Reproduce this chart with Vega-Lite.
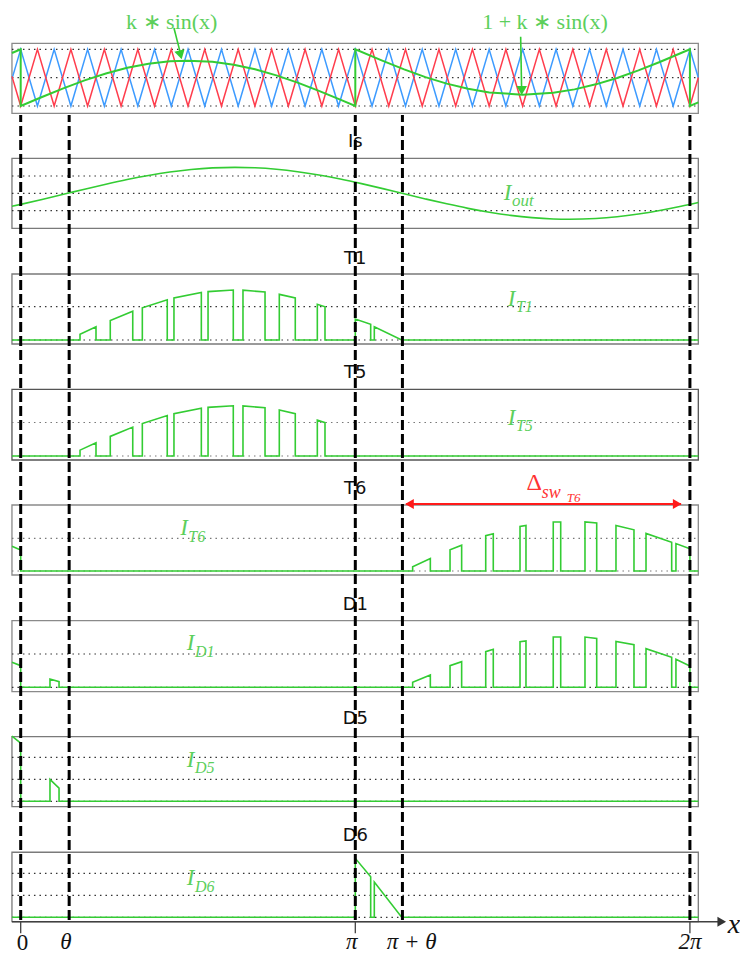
{
"$schema": "https://vega.github.io/schema/vega-lite/v6.json",
"width": 740, "height": 956, "padding": 0, "autosize": {"type": "none"},
"background": "white",
"config": {"view": {"stroke": null}},
"datasets": {
"carrier": [
{"x":-0.082,"blue":0.478,"red":0.522},{"x":0,"blue":1,"red":0},{"x":0.1571,"blue":0,"red":1},{"x":0.3142,"blue":1,"red":0},{"x":0.4712,"blue":0,"red":1},{"x":0.6283,"blue":1,"red":0},{"x":0.7854,"blue":0,"red":1},{"x":0.9425,"blue":1,"red":0},{"x":1.0996,"blue":0,"red":1},{"x":1.2566,"blue":1,"red":0},{"x":1.4137,"blue":0,"red":1},{"x":1.5708,"blue":1,"red":0},{"x":1.7279,"blue":0,"red":1},{"x":1.885,"blue":1,"red":0},{"x":2.042,"blue":0,"red":1},{"x":2.1991,"blue":1,"red":0},{"x":2.3562,"blue":0,"red":1},{"x":2.5133,"blue":1,"red":0},{"x":2.6704,"blue":0,"red":1},{"x":2.8274,"blue":1,"red":0},{"x":2.9845,"blue":0,"red":1},{"x":3.1416,"blue":1,"red":0},{"x":3.2987,"blue":0,"red":1},{"x":3.4558,"blue":1,"red":0},{"x":3.6128,"blue":0,"red":1},{"x":3.7699,"blue":1,"red":0},{"x":3.927,"blue":0,"red":1},{"x":4.0841,"blue":1,"red":0},{"x":4.2412,"blue":0,"red":1},{"x":4.3982,"blue":1,"red":0},{"x":4.5553,"blue":0,"red":1},{"x":4.7124,"blue":1,"red":0},{"x":4.8695,"blue":0,"red":1},{"x":5.0265,"blue":1,"red":0},{"x":5.1836,"blue":0,"red":1},{"x":5.3407,"blue":1,"red":0},{"x":5.4978,"blue":0,"red":1},{"x":5.6549,"blue":1,"red":0},{"x":5.8119,"blue":0,"red":1},{"x":5.969,"blue":1,"red":0},{"x":6.1261,"blue":0,"red":1},{"x":6.2832,"blue":1,"red":0},{"x":6.362,"blue":0.498,"red":0.502}
],
"mod": [
{"x":-0.082,"y":0.934},{"x":0,"y":1},{"x":0,"y":0},{"x":0.2,"y":0.159},{"x":0.4,"y":0.312},{"x":0.6,"y":0.452},{"x":0.8,"y":0.574},{"x":1.0,"y":0.673},{"x":1.2,"y":0.746},{"x":1.4,"y":0.788},{"x":1.571,"y":0.8},{"x":1.8,"y":0.779},{"x":2.0,"y":0.727},{"x":2.2,"y":0.647},{"x":2.4,"y":0.54},{"x":2.6,"y":0.412},{"x":2.8,"y":0.268},{"x":3.0,"y":0.113},{"x":3.1416,"y":0},{"x":3.1416,"y":1},{"x":3.4,"y":0.796},{"x":3.6,"y":0.646},{"x":3.8,"y":0.51},{"x":4.0,"y":0.395},{"x":4.2,"y":0.303},{"x":4.4,"y":0.239},{"x":4.712,"y":0.2},{"x":5.0,"y":0.233},{"x":5.2,"y":0.293},{"x":5.4,"y":0.382},{"x":5.6,"y":0.495},{"x":5.8,"y":0.628},{"x":6.0,"y":0.776},{"x":6.2,"y":0.934},{"x":6.2832,"y":1},{"x":6.2832,"y":0},{"x":6.362,"y":0.063}
],
"is": [
{"x":-0.082,"y":-0.748},{"x":0,"y":-0.639},{"x":0.2,"y":-0.357},{"x":0.44,"y":0},{"x":0.6,"y":0.239},{"x":0.8,"y":0.528},{"x":1.0,"y":0.797},{"x":1.2,"y":1.033},{"x":1.4,"y":1.229},{"x":1.6,"y":1.375},{"x":1.8,"y":1.467},{"x":2.011,"y":1.5},{"x":2.2,"y":1.473},{"x":2.4,"y":1.388},{"x":2.6,"y":1.247},{"x":2.8,"y":1.056},{"x":3.0,"y":0.824},{"x":3.2,"y":0.559},{"x":3.4,"y":0.271},{"x":3.58,"y":0},{"x":3.8,"y":-0.325},{"x":4.0,"y":-0.609},{"x":4.2,"y":-0.87},{"x":4.4,"y":-1.095},{"x":4.6,"y":-1.277},{"x":4.8,"y":-1.408},{"x":5.0,"y":-1.483},{"x":5.152,"y":-1.5},{"x":5.4,"y":-1.455},{"x":5.6,"y":-1.353},{"x":5.8,"y":-1.196},{"x":6.0,"y":-0.993},{"x":6.2,"y":-0.75},{"x":6.362,"y":-0.53}
],
"t1": [
{"x":-0.082,"y":0},{"x":0.557,"y":0},{"x":0.557,"y":0.175},{"x":0.707,"y":0.396},{"x":0.707,"y":0},{"x":0.841,"y":0},{"x":0.841,"y":0.585},{"x":1.052,"y":0.862},{"x":1.052,"y":0},{"x":1.142,"y":0},{"x":1.142,"y":0.969},{"x":1.376,"y":1.208},{"x":1.376,"y":0},{"x":1.439,"y":0},{"x":1.439,"y":1.261},{"x":1.696,"y":1.426},{"x":1.696,"y":0},{"x":1.759,"y":0},{"x":1.759,"y":1.453},{"x":1.996,"y":1.5},{"x":1.996,"y":0},{"x":2.087,"y":0},{"x":2.087,"y":1.496},{"x":2.294,"y":1.44},{"x":2.294,"y":0},{"x":2.428,"y":0},{"x":2.428,"y":1.371},{"x":2.578,"y":1.264},{"x":2.578,"y":0},{"x":2.785,"y":0},{"x":2.785,"y":1.073},{"x":2.857,"y":0.995},{"x":2.857,"y":0},{"x":3.1416,"y":0},{"x":3.1416,"y":0.63},{"x":3.286,"y":0.47},{"x":3.286,"y":0},{"x":3.32,"y":0},{"x":3.32,"y":0.4},{"x":3.577,"y":0},{"x":6.362,"y":0}
],
"t5": [
{"x":-0.082,"y":0},{"x":0.557,"y":0},{"x":0.557,"y":0.175},{"x":0.707,"y":0.396},{"x":0.707,"y":0},{"x":0.841,"y":0},{"x":0.841,"y":0.585},{"x":1.052,"y":0.862},{"x":1.052,"y":0},{"x":1.142,"y":0},{"x":1.142,"y":0.969},{"x":1.376,"y":1.208},{"x":1.376,"y":0},{"x":1.439,"y":0},{"x":1.439,"y":1.261},{"x":1.696,"y":1.426},{"x":1.696,"y":0},{"x":1.759,"y":0},{"x":1.759,"y":1.453},{"x":1.996,"y":1.5},{"x":1.996,"y":0},{"x":2.087,"y":0},{"x":2.087,"y":1.496},{"x":2.294,"y":1.44},{"x":2.294,"y":0},{"x":2.428,"y":0},{"x":2.428,"y":1.371},{"x":2.578,"y":1.264},{"x":2.578,"y":0},{"x":2.785,"y":0},{"x":2.785,"y":1.073},{"x":2.857,"y":0.995},{"x":2.857,"y":0},{"x":6.362,"y":0}
],
"t6": [
{"x":-0.082,"y":0.76},{"x":0,"y":0.64},{"x":0,"y":0},{"x":3.68,"y":0},{"x":3.68,"y":0.13},{"x":3.846,"y":0.38},{"x":3.846,"y":0},{"x":4.031,"y":0},{"x":4.031,"y":0.65},{"x":4.14,"y":0.79},{"x":4.14,"y":0},{"x":4.366,"y":0},{"x":4.366,"y":1.08},{"x":4.437,"y":1.14},{"x":4.437,"y":0},{"x":4.688,"y":0},{"x":4.688,"y":1.36},{"x":4.744,"y":1.39},{"x":4.744,"y":0},{"x":5.0,"y":0},{"x":5.0,"y":1.5},{"x":5.07,"y":1.5},{"x":5.07,"y":0},{"x":5.298,"y":0},{"x":5.298,"y":1.5},{"x":5.408,"y":1.47},{"x":5.408,"y":0},{"x":5.589,"y":0},{"x":5.589,"y":1.39},{"x":5.758,"y":1.26},{"x":5.758,"y":0},{"x":5.871,"y":0},{"x":5.871,"y":1.15},{"x":6.112,"y":0.88},{"x":6.112,"y":0},{"x":6.152,"y":0},{"x":6.152,"y":0.84},{"x":6.2832,"y":0.68},{"x":6.2832,"y":0},{"x":6.362,"y":0}
],
"d1": [
{"x":-0.082,"y":0.75},{"x":0,"y":0.65},{"x":0,"y":0},{"x":0.275,"y":0},{"x":0.275,"y":0.25},{"x":0.36,"y":0.17},{"x":0.36,"y":0},{"x":3.68,"y":0},{"x":3.68,"y":0.15},{"x":3.846,"y":0.37},{"x":3.846,"y":0},{"x":4.031,"y":0},{"x":4.031,"y":0.65},{"x":4.14,"y":0.77},{"x":4.14,"y":0},{"x":4.366,"y":0},{"x":4.366,"y":1.07},{"x":4.437,"y":1.14},{"x":4.437,"y":0},{"x":4.688,"y":0},{"x":4.688,"y":1.37},{"x":4.744,"y":1.39},{"x":4.744,"y":0},{"x":5.0,"y":0},{"x":5.0,"y":1.51},{"x":5.07,"y":1.51},{"x":5.07,"y":0},{"x":5.298,"y":0},{"x":5.298,"y":1.51},{"x":5.408,"y":1.47},{"x":5.408,"y":0},{"x":5.589,"y":0},{"x":5.589,"y":1.38},{"x":5.758,"y":1.28},{"x":5.758,"y":0},{"x":5.871,"y":0},{"x":5.871,"y":1.16},{"x":6.112,"y":0.9},{"x":6.112,"y":0},{"x":6.152,"y":0},{"x":6.152,"y":0.84},{"x":6.2832,"y":0.64},{"x":6.2832,"y":0},{"x":6.362,"y":0}
],
"d5": [
{"x":-0.082,"y":0.74},{"x":0,"y":0.66},{"x":0,"y":0},{"x":0.275,"y":0},{"x":0.275,"y":0.25},{"x":0.36,"y":0.15},{"x":0.36,"y":0},{"x":6.362,"y":0}
],
"d6": [
{"x":-0.082,"y":0},{"x":3.1416,"y":0},{"x":3.1416,"y":0.67},{"x":3.286,"y":0.46},{"x":3.286,"y":0},{"x":3.32,"y":0},{"x":3.32,"y":0.4},{"x":3.577,"y":0},{"x":6.362,"y":0}
]
},
"encoding": {"x": {"field": "x", "type": "quantitative", "scale": {"domain": [-0.1943, 6.7534], "nice": false, "zero": false}, "axis": null}},
"layer": [
{"layer": [
 {"data": {"values": [{"x": -0.082, "x2": 6.362, "y": -0.129, "y2": 1.106}]}, "mark": {"type": "rect", "fill": "transparent", "stroke": "#8a8a8a", "strokeWidth": 1.3},
  "encoding": {"x2": {"field": "x2"}, "y": {"field": "y", "type": "quantitative", "scale": {"domain": [-14.991, 1.8695], "nice": false, "zero": false}, "axis": null}, "y2": {"field": "y2"}}},
 {"data": {"values": [{"x": -0.082, "x2": 6.362, "y": 0}, {"x": -0.082, "x2": 6.362, "y": 0.5}, {"x": -0.082, "x2": 6.362, "y": 1}]}, "mark": {"type": "rule", "stroke": "#333333", "strokeDash": [1.5, 4], "strokeWidth": 1.2},
  "encoding": {"x2": {"field": "x2"}, "y": {"field": "y", "type": "quantitative", "scale": {"domain": [-14.991, 1.8695], "nice": false, "zero": false}, "axis": null}}},
 {"data": {"name": "carrier"}, "mark": {"type": "line", "stroke": "#3d9bff", "strokeWidth": 1.5},
  "encoding": {"y": {"field": "blue", "type": "quantitative", "scale": {"domain": [-14.991, 1.8695], "nice": false, "zero": false}, "axis": null}, "order": {"value": null}}},
 {"data": {"name": "carrier"}, "mark": {"type": "line", "stroke": "#ff3d4d", "strokeWidth": 1.5},
  "encoding": {"y": {"field": "red", "type": "quantitative", "scale": {"domain": [-14.991, 1.8695], "nice": false, "zero": false}, "axis": null}, "order": {"value": null}}},
 {"data": {"name": "mod"}, "mark": {"type": "line", "stroke": "#33cc33", "strokeWidth": 2},
  "encoding": {"y": {"field": "y", "type": "quantitative", "scale": {"domain": [-14.991, 1.8695], "nice": false, "zero": false}, "axis": null}, "order": {"value": null}}},
 {"data": {"values": [{"x": 1.439, "y": 1.376, "x2": 1.501, "y2": 0.92}, {"x": 4.694, "y": 1.222, "x2": 4.703, "y2": 0.3}]}, "mark": {"type": "rule", "stroke": "#33cc33", "strokeWidth": 1.6},
  "encoding": {"x2": {"field": "x2"}, "y": {"field": "y", "type": "quantitative", "scale": {"domain": [-14.991, 1.8695], "nice": false, "zero": false}, "axis": null}, "y2": {"field": "y2"}}},
 {"data": {"values": [{"x": 1.501, "y": 0.901}]}, "mark": {"type": "point", "shape": "triangle-down", "filled": true, "color": "#33cc33", "opacity": 1, "size": 110, "angle": -14},
  "encoding": {"y": {"field": "y", "type": "quantitative", "scale": {"domain": [-14.991, 1.8695], "nice": false, "zero": false}, "axis": null}}},
 {"data": {"values": [{"x": 4.704, "y": 0.273}]}, "mark": {"type": "point", "shape": "triangle-down", "filled": true, "color": "#33cc33", "opacity": 1, "size": 110},
  "encoding": {"y": {"field": "y", "type": "quantitative", "scale": {"domain": [-14.991, 1.8695], "nice": false, "zero": false}, "axis": null}}},
 {"data": {"values": [{"x": 1.418, "y": 1.481, "label": "k ∗ sin(x)"}, {"x": 4.923, "y": 1.481, "label": "1 + k ∗ sin(x)"}]}, "mark": {"type": "text", "font": "Liberation Serif", "fontSize": 22, "color": "#5ccf5c", "align": "center", "baseline": "middle"},
  "encoding": {"y": {"field": "y", "type": "quantitative", "scale": {"domain": [-14.991, 1.8695], "nice": false, "zero": false}, "axis": null}, "text": {"field": "label"}}}
]},
{"layer": [
 {"data": {"values": [{"x": -0.082, "x2": 6.362, "y": -2.023, "y2": 2.023}]}, "mark": {"type": "rect", "fill": "transparent", "stroke": "#7a7a7a", "strokeWidth": 1.3},
  "encoding": {"x2": {"field": "x2"}, "y": {"field": "y", "type": "quantitative", "scale": {"domain": [-44.087, 11.173], "nice": false, "zero": false}, "axis": null}, "y2": {"field": "y2"}}},
 {"data": {"values": [{"x": -0.082, "x2": 6.362, "y": -1}, {"x": -0.082, "x2": 6.362, "y": 0}, {"x": -0.082, "x2": 6.362, "y": 1}]}, "mark": {"type": "rule", "stroke": "#333333", "strokeDash": [1.5, 4], "strokeWidth": 1.2},
  "encoding": {"x2": {"field": "x2"}, "y": {"field": "y", "type": "quantitative", "scale": {"domain": [-44.087, 11.173], "nice": false, "zero": false}, "axis": null}}},
 {"data": {"name": "is"}, "mark": {"type": "line", "stroke": "#33cc33", "strokeWidth": 1.6, "interpolate": "monotone"},
  "encoding": {"y": {"field": "y", "type": "quantitative", "scale": {"domain": [-44.087, 11.173], "nice": false, "zero": false}, "axis": null}}},
 {"data": {"values": [{"x": 3.1416, "y": 2.98, "label": "Is"}]}, "mark": {"type": "text", "font": "DejaVu Sans", "fontSize": 18, "color": "#111111", "align": "center", "baseline": "middle"},
  "encoding": {"y": {"field": "y", "type": "quantitative", "scale": {"domain": [-44.087, 11.173], "nice": false, "zero": false}, "axis": null}, "text": {"field": "label"}}},
 {"data": {"values": [{"x": 4.608, "y": 0.02, "label": "I"}]}, "mark": {"type": "text", "font": "Liberation Serif", "fontStyle": "italic", "fontSize": 23, "color": "#5ccf5c", "align": "right", "baseline": "middle"},
  "encoding": {"y": {"field": "y", "type": "quantitative", "scale": {"domain": [-44.087, 11.173], "nice": false, "zero": false}, "axis": null}, "text": {"field": "label"}}},
 {"data": {"values": [{"x": 4.613, "y": -0.45, "label": "out"}]}, "mark": {"type": "text", "font": "Liberation Serif", "fontStyle": "italic", "fontSize": 17, "color": "#5ccf5c", "align": "left", "baseline": "middle"},
  "encoding": {"y": {"field": "y", "type": "quantitative", "scale": {"domain": [-44.087, 11.173], "nice": false, "zero": false}, "axis": null}, "text": {"field": "label"}}}
]},
{"layer": [
 {"data": {"values": [{"x": -0.082, "x2": 6.362, "y": -0.12, "y2": 1.982}]}, "mark": {"type": "rect", "fill": "transparent", "stroke": "#7a7a7a", "strokeWidth": 1.3},
  "encoding": {"x2": {"field": "x2"}, "y": {"field": "y", "type": "quantitative", "scale": {"domain": [-18.498, 10.21], "nice": false, "zero": false}, "axis": null}, "y2": {"field": "y2"}}},
 {"data": {"values": [{"x": -0.082, "x2": 6.362, "y": 0}, {"x": -0.082, "x2": 6.362, "y": 1}]}, "mark": {"type": "rule", "stroke": "#333333", "strokeDash": [1.5, 4], "strokeWidth": 1.2},
  "encoding": {"x2": {"field": "x2"}, "y": {"field": "y", "type": "quantitative", "scale": {"domain": [-18.498, 10.21], "nice": false, "zero": false}, "axis": null}}},
 {"data": {"name": "t1"}, "mark": {"type": "line", "stroke": "#33cc33", "strokeWidth": 1.6},
  "encoding": {"y": {"field": "y", "type": "quantitative", "scale": {"domain": [-18.498, 10.21], "nice": false, "zero": false}, "axis": null}, "order": {"value": null}}},
 {"data": {"values": [{"x": 3.1416, "y": 2.43, "label": "T1"}]}, "mark": {"type": "text", "font": "DejaVu Sans", "fontSize": 18, "color": "#111111", "align": "center", "baseline": "middle"},
  "encoding": {"y": {"field": "y", "type": "quantitative", "scale": {"domain": [-18.498, 10.21], "nice": false, "zero": false}, "axis": null}, "text": {"field": "label"}}},
 {"data": {"values": [{"x": 4.645, "y": 1.23, "label": "I"}]}, "mark": {"type": "text", "font": "Liberation Serif", "fontStyle": "italic", "fontSize": 23, "color": "#5ccf5c", "align": "right", "baseline": "middle"},
  "encoding": {"y": {"field": "y", "type": "quantitative", "scale": {"domain": [-18.498, 10.21], "nice": false, "zero": false}, "axis": null}, "text": {"field": "label"}}},
 {"data": {"values": [{"x": 4.65, "y": 0.99, "label": "T1"}]}, "mark": {"type": "text", "font": "Liberation Serif", "fontStyle": "italic", "fontSize": 16, "color": "#5ccf5c", "align": "left", "baseline": "middle"},
  "encoding": {"y": {"field": "y", "type": "quantitative", "scale": {"domain": [-18.498, 10.21], "nice": false, "zero": false}, "axis": null}, "text": {"field": "label"}}}
]},
{"layer": [
 {"data": {"values": [{"x": -0.082, "x2": 6.362, "y": -0.119, "y2": 1.991}]}, "mark": {"type": "rect", "fill": "transparent", "stroke": "#555555", "strokeWidth": 1.3},
  "encoding": {"x2": {"field": "x2"}, "y": {"field": "y", "type": "quantitative", "scale": {"domain": [-14.925, 13.612], "nice": false, "zero": false}, "axis": null}, "y2": {"field": "y2"}}},
 {"data": {"values": [{"x": -0.082, "x2": 6.362, "y": 0}, {"x": -0.082, "x2": 6.362, "y": 1}]}, "mark": {"type": "rule", "stroke": "#777777", "strokeDash": [1.5, 4], "strokeWidth": 1.2},
  "encoding": {"x2": {"field": "x2"}, "y": {"field": "y", "type": "quantitative", "scale": {"domain": [-14.925, 13.612], "nice": false, "zero": false}, "axis": null}}},
 {"data": {"name": "t5"}, "mark": {"type": "line", "stroke": "#33cc33", "strokeWidth": 1.6},
  "encoding": {"y": {"field": "y", "type": "quantitative", "scale": {"domain": [-14.925, 13.612], "nice": false, "zero": false}, "axis": null}, "order": {"value": null}}},
 {"data": {"values": [{"x": 3.1416, "y": 2.48, "label": "T5"}]}, "mark": {"type": "text", "font": "DejaVu Sans", "fontSize": 18, "color": "#111111", "align": "center", "baseline": "middle"},
  "encoding": {"y": {"field": "y", "type": "quantitative", "scale": {"domain": [-14.925, 13.612], "nice": false, "zero": false}, "axis": null}, "text": {"field": "label"}}},
 {"data": {"values": [{"x": 4.645, "y": 1.134, "label": "I"}]}, "mark": {"type": "text", "font": "Liberation Serif", "fontStyle": "italic", "fontSize": 23, "color": "#5ccf5c", "align": "right", "baseline": "middle"},
  "encoding": {"y": {"field": "y", "type": "quantitative", "scale": {"domain": [-14.925, 13.612], "nice": false, "zero": false}, "axis": null}, "text": {"field": "label"}}},
 {"data": {"values": [{"x": 4.65, "y": 0.896, "label": "T5"}]}, "mark": {"type": "text", "font": "Liberation Serif", "fontStyle": "italic", "fontSize": 16, "color": "#5ccf5c", "align": "left", "baseline": "middle"},
  "encoding": {"y": {"field": "y", "type": "quantitative", "scale": {"domain": [-14.925, 13.612], "nice": false, "zero": false}, "axis": null}, "text": {"field": "label"}}}
]},
{"layer": [
 {"data": {"values": [{"x": -0.082, "x2": 6.362, "y": -0.122, "y2": 2.018}]}, "mark": {"type": "rect", "fill": "transparent", "stroke": "#8a8a8a", "strokeWidth": 1.3},
  "encoding": {"x2": {"field": "x2"}, "y": {"field": "y", "type": "quantitative", "scale": {"domain": [-11.774, 17.462], "nice": false, "zero": false}, "axis": null}, "y2": {"field": "y2"}}},
 {"data": {"values": [{"x": -0.082, "x2": 6.362, "y": 0}, {"x": -0.082, "x2": 6.362, "y": 1}]}, "mark": {"type": "rule", "stroke": "#777777", "strokeDash": [1.5, 4], "strokeWidth": 1.2},
  "encoding": {"x2": {"field": "x2"}, "y": {"field": "y", "type": "quantitative", "scale": {"domain": [-11.774, 17.462], "nice": false, "zero": false}, "axis": null}}},
 {"data": {"name": "t6"}, "mark": {"type": "line", "stroke": "#33cc33", "strokeWidth": 1.6},
  "encoding": {"y": {"field": "y", "type": "quantitative", "scale": {"domain": [-11.774, 17.462], "nice": false, "zero": false}, "axis": null}, "order": {"value": null}}},
 {"data": {"values": [{"x": 3.1416, "y": 2.51, "label": "T6"}]}, "mark": {"type": "text", "font": "DejaVu Sans", "fontSize": 18, "color": "#111111", "align": "center", "baseline": "middle"},
  "encoding": {"y": {"field": "y", "type": "quantitative", "scale": {"domain": [-11.774, 17.462], "nice": false, "zero": false}, "axis": null}, "text": {"field": "label"}}},
 {"data": {"values": [{"x": 1.569, "y": 1.315, "label": "I"}]}, "mark": {"type": "text", "font": "Liberation Serif", "fontStyle": "italic", "fontSize": 23, "color": "#5ccf5c", "align": "right", "baseline": "middle"},
  "encoding": {"y": {"field": "y", "type": "quantitative", "scale": {"domain": [-11.774, 17.462], "nice": false, "zero": false}, "axis": null}, "text": {"field": "label"}}},
 {"data": {"values": [{"x": 1.574, "y": 1.04, "label": "T6"}]}, "mark": {"type": "text", "font": "Liberation Serif", "fontStyle": "italic", "fontSize": 16, "color": "#5ccf5c", "align": "left", "baseline": "middle"},
  "encoding": {"y": {"field": "y", "type": "quantitative", "scale": {"domain": [-11.774, 17.462], "nice": false, "zero": false}, "axis": null}, "text": {"field": "label"}}},
 {"data": {"values": [{"x": 3.62, "x2": 6.2, "y": 2.05}]}, "mark": {"type": "rule", "stroke": "#ff1a1a", "strokeWidth": 2},
  "encoding": {"x2": {"field": "x2"}, "y": {"field": "y", "type": "quantitative", "scale": {"domain": [-11.774, 17.462], "nice": false, "zero": false}, "axis": null}}},
 {"data": {"values": [{"x": 3.65, "y": 2.05}]}, "mark": {"type": "point", "shape": "triangle-left", "filled": true, "color": "#ff1a1a", "opacity": 1, "size": 100},
  "encoding": {"y": {"field": "y", "type": "quantitative", "scale": {"domain": [-11.774, 17.462], "nice": false, "zero": false}, "axis": null}}},
 {"data": {"values": [{"x": 6.164, "y": 2.05}]}, "mark": {"type": "point", "shape": "triangle-right", "filled": true, "color": "#ff1a1a", "opacity": 1, "size": 100},
  "encoding": {"y": {"field": "y", "type": "quantitative", "scale": {"domain": [-11.774, 17.462], "nice": false, "zero": false}, "axis": null}}},
 {"data": {"values": [{"x": 4.821, "y": 2.69, "label": "Δ"}]}, "mark": {"type": "text", "font": "Liberation Serif", "fontSize": 24, "color": "#ff3333", "align": "center", "baseline": "middle"},
  "encoding": {"y": {"field": "y", "type": "quantitative", "scale": {"domain": [-11.774, 17.462], "nice": false, "zero": false}, "axis": null}, "text": {"field": "label"}}},
 {"data": {"values": [{"x": 4.892, "y": 2.4, "label": "sw"}]}, "mark": {"type": "text", "font": "Liberation Serif", "fontStyle": "italic", "fontSize": 18, "color": "#ff3333", "align": "left", "baseline": "middle"},
  "encoding": {"y": {"field": "y", "type": "quantitative", "scale": {"domain": [-11.774, 17.462], "nice": false, "zero": false}, "axis": null}, "text": {"field": "label"}}},
 {"data": {"values": [{"x": 5.126, "y": 2.22, "label": "T6"}]}, "mark": {"type": "text", "font": "Liberation Serif", "fontStyle": "italic", "fontSize": 13, "color": "#ff3333", "align": "left", "baseline": "middle"},
  "encoding": {"y": {"field": "y", "type": "quantitative", "scale": {"domain": [-11.774, 17.462], "nice": false, "zero": false}, "axis": null}, "text": {"field": "label"}}}
]},
{"layer": [
 {"data": {"values": [{"x": -0.082, "x2": 6.362, "y": -0.132, "y2": 2.0}]}, "mark": {"type": "rect", "fill": "transparent", "stroke": "#8a8a8a", "strokeWidth": 1.3},
  "encoding": {"x2": {"field": "x2"}, "y": {"field": "y", "type": "quantitative", "scale": {"domain": [-8.069, 20.64], "nice": false, "zero": false}, "axis": null}, "y2": {"field": "y2"}}},
 {"data": {"values": [{"x": -0.082, "x2": 6.362, "y": 0}, {"x": -0.082, "x2": 6.362, "y": 1}]}, "mark": {"type": "rule", "stroke": "#333333", "strokeDash": [1.5, 4], "strokeWidth": 1.2},
  "encoding": {"x2": {"field": "x2"}, "y": {"field": "y", "type": "quantitative", "scale": {"domain": [-8.069, 20.64], "nice": false, "zero": false}, "axis": null}}},
 {"data": {"name": "d1"}, "mark": {"type": "line", "stroke": "#33cc33", "strokeWidth": 1.6},
  "encoding": {"y": {"field": "y", "type": "quantitative", "scale": {"domain": [-8.069, 20.64], "nice": false, "zero": false}, "axis": null}, "order": {"value": null}}},
 {"data": {"values": [{"x": 3.1416, "y": 2.47, "label": "D1"}]}, "mark": {"type": "text", "font": "DejaVu Sans", "fontSize": 18, "color": "#111111", "align": "center", "baseline": "middle"},
  "encoding": {"y": {"field": "y", "type": "quantitative", "scale": {"domain": [-8.069, 20.64], "nice": false, "zero": false}, "axis": null}, "text": {"field": "label"}}},
 {"data": {"values": [{"x": 1.631, "y": 1.33, "label": "I"}]}, "mark": {"type": "text", "font": "Liberation Serif", "fontStyle": "italic", "fontSize": 23, "color": "#5ccf5c", "align": "right", "baseline": "middle"},
  "encoding": {"y": {"field": "y", "type": "quantitative", "scale": {"domain": [-8.069, 20.64], "nice": false, "zero": false}, "axis": null}, "text": {"field": "label"}}},
 {"data": {"values": [{"x": 1.636, "y": 1.06, "label": "D1"}]}, "mark": {"type": "text", "font": "Liberation Serif", "fontStyle": "italic", "fontSize": 16, "color": "#5ccf5c", "align": "left", "baseline": "middle"},
  "encoding": {"y": {"field": "y", "type": "quantitative", "scale": {"domain": [-8.069, 20.64], "nice": false, "zero": false}, "axis": null}, "text": {"field": "label"}}}
]},
{"layer": [
 {"data": {"values": [{"x": -0.082, "x2": 6.362, "y": -0.061, "y2": 0.734}]}, "mark": {"type": "rect", "fill": "transparent", "stroke": "#7a7a7a", "strokeWidth": 1.3},
  "encoding": {"x2": {"field": "x2"}, "y": {"field": "y", "type": "quantitative", "scale": {"domain": [-1.758, 9.106], "nice": false, "zero": false}, "axis": null}, "y2": {"field": "y2"}}},
 {"data": {"values": [{"x": -0.082, "x2": 6.362, "y": 0}, {"x": -0.082, "x2": 6.362, "y": 0.25}, {"x": -0.082, "x2": 6.362, "y": 0.5}]}, "mark": {"type": "rule", "stroke": "#333333", "strokeDash": [1.5, 4], "strokeWidth": 1.2},
  "encoding": {"x2": {"field": "x2"}, "y": {"field": "y", "type": "quantitative", "scale": {"domain": [-1.758, 9.106], "nice": false, "zero": false}, "axis": null}}},
 {"data": {"name": "d5"}, "mark": {"type": "line", "stroke": "#33cc33", "strokeWidth": 1.6},
  "encoding": {"y": {"field": "y", "type": "quantitative", "scale": {"domain": [-1.758, 9.106], "nice": false, "zero": false}, "axis": null}, "order": {"value": null}}},
 {"data": {"values": [{"x": 3.1416, "y": 0.935, "label": "D5"}]}, "mark": {"type": "text", "font": "DejaVu Sans", "fontSize": 18, "color": "#111111", "align": "center", "baseline": "middle"},
  "encoding": {"y": {"field": "y", "type": "quantitative", "scale": {"domain": [-1.758, 9.106], "nice": false, "zero": false}, "axis": null}, "text": {"field": "label"}}},
 {"data": {"values": [{"x": 1.631, "y": 0.469, "label": "I"}]}, "mark": {"type": "text", "font": "Liberation Serif", "fontStyle": "italic", "fontSize": 23, "color": "#5ccf5c", "align": "right", "baseline": "middle"},
  "encoding": {"y": {"field": "y", "type": "quantitative", "scale": {"domain": [-1.758, 9.106], "nice": false, "zero": false}, "axis": null}, "text": {"field": "label"}}},
 {"data": {"values": [{"x": 1.636, "y": 0.378, "label": "D5"}]}, "mark": {"type": "text", "font": "Liberation Serif", "fontStyle": "italic", "fontSize": 16, "color": "#5ccf5c", "align": "left", "baseline": "middle"},
  "encoding": {"y": {"field": "y", "type": "quantitative", "scale": {"domain": [-1.758, 9.106], "nice": false, "zero": false}, "axis": null}, "text": {"field": "label"}}}
]},
{"layer": [
 {"data": {"values": [{"x": -0.082, "x2": 6.362, "y": -0.05, "y2": 0.739}]}, "mark": {"type": "rect", "fill": "transparent", "stroke": "#7a7a7a", "strokeWidth": 1.3},
  "encoding": {"x2": {"field": "x2"}, "y": {"field": "y", "type": "quantitative", "scale": {"domain": [-0.4398, 10.424], "nice": false, "zero": false}, "axis": null}, "y2": {"field": "y2"}}},
 {"data": {"values": [{"x": -0.082, "x2": 6.362, "y": 0}, {"x": -0.082, "x2": 6.362, "y": 0.25}, {"x": -0.082, "x2": 6.362, "y": 0.5}]}, "mark": {"type": "rule", "stroke": "#333333", "strokeDash": [1.5, 4], "strokeWidth": 1.2},
  "encoding": {"x2": {"field": "x2"}, "y": {"field": "y", "type": "quantitative", "scale": {"domain": [-0.4398, 10.424], "nice": false, "zero": false}, "axis": null}}},
 {"data": {"name": "d6"}, "mark": {"type": "line", "stroke": "#33cc33", "strokeWidth": 1.6},
  "encoding": {"y": {"field": "y", "type": "quantitative", "scale": {"domain": [-0.4398, 10.424], "nice": false, "zero": false}, "axis": null}, "order": {"value": null}}},
 {"data": {"values": [{"x": 3.1416, "y": 0.924, "label": "D6"}]}, "mark": {"type": "text", "font": "DejaVu Sans", "fontSize": 18, "color": "#111111", "align": "center", "baseline": "middle"},
  "encoding": {"y": {"field": "y", "type": "quantitative", "scale": {"domain": [-0.4398, 10.424], "nice": false, "zero": false}, "axis": null}, "text": {"field": "label"}}},
 {"data": {"values": [{"x": 1.631, "y": 0.452, "label": "I"}]}, "mark": {"type": "text", "font": "Liberation Serif", "fontStyle": "italic", "fontSize": 23, "color": "#5ccf5c", "align": "right", "baseline": "middle"},
  "encoding": {"y": {"field": "y", "type": "quantitative", "scale": {"domain": [-0.4398, 10.424], "nice": false, "zero": false}, "axis": null}, "text": {"field": "label"}}},
 {"data": {"values": [{"x": 1.636, "y": 0.339, "label": "D6"}]}, "mark": {"type": "text", "font": "Liberation Serif", "fontStyle": "italic", "fontSize": 16, "color": "#5ccf5c", "align": "left", "baseline": "middle"},
  "encoding": {"y": {"field": "y", "type": "quantitative", "scale": {"domain": [-0.4398, 10.424], "nice": false, "zero": false}, "axis": null}, "text": {"field": "label"}}},
 {"data": {"values": [{"x": -0.082, "x2": 6.56, "y": -0.05}]}, "mark": {"type": "rule", "stroke": "#404040", "strokeWidth": 1.6},
  "encoding": {"x2": {"field": "x2"}, "y": {"field": "y", "type": "quantitative", "scale": {"domain": [-0.4398, 10.424], "nice": false, "zero": false}, "axis": null}}},
 {"data": {"values": [{"x": 6.582, "y": -0.05}]}, "mark": {"type": "point", "shape": "triangle-right", "filled": true, "color": "#333333", "opacity": 1, "size": 100},
  "encoding": {"y": {"field": "y", "type": "quantitative", "scale": {"domain": [-0.4398, 10.424], "nice": false, "zero": false}, "axis": null}}},
 {"data": {"values": [{"x": 0}, {"x": 3.1416}, {"x": 6.2832}]}, "mark": {"type": "rule", "stroke": "#404040", "strokeWidth": 1.3},
  "encoding": {"y": {"datum": -0.05, "type": "quantitative", "scale": {"domain": [-0.4398, 10.424], "nice": false, "zero": false}, "axis": null}, "y2": {"datum": -0.182}}},
 {"data": {"values": [{"x": 0.017, "label": "0"}]}, "mark": {"type": "text", "font": "Liberation Serif", "fontSize": 23, "color": "#111111", "align": "center", "baseline": "middle"},
  "encoding": {"y": {"datum": -0.292, "type": "quantitative", "scale": {"domain": [-0.4398, 10.424], "nice": false, "zero": false}, "axis": null}, "text": {"field": "label"}}},
 {"data": {"values": [{"x": 0.425, "label": "θ"}, {"x": 3.108, "label": "π"}, {"x": 3.671, "label": "π + θ"}, {"x": 6.284, "label": "2π"}]}, "mark": {"type": "text", "font": "Liberation Serif", "fontStyle": "italic", "fontSize": 23, "color": "#111111", "align": "center", "baseline": "middle"},
  "encoding": {"y": {"datum": -0.285, "type": "quantitative", "scale": {"domain": [-0.4398, 10.424], "nice": false, "zero": false}, "axis": null}, "text": {"field": "label"}}},
 {"data": {"values": [{"x": 6.697, "label": "x"}]}, "mark": {"type": "text", "font": "Liberation Serif", "fontStyle": "italic", "fontSize": 28, "color": "#111111", "align": "center", "baseline": "middle"},
  "encoding": {"y": {"datum": -0.09, "type": "quantitative", "scale": {"domain": [-0.4398, 10.424], "nice": false, "zero": false}, "axis": null}, "text": {"field": "label"}}},
 {"data": {"values": [{"x": 0}, {"x": 0.455}, {"x": 3.1416}, {"x": 3.584}, {"x": 6.2832}]}, "mark": {"type": "rule", "stroke": "#000000", "strokeWidth": 3, "strokeDash": [10, 4]},
  "encoding": {"y": {"datum": -0.03, "type": "quantitative", "scale": {"domain": [-0.4398, 10.424], "nice": false, "zero": false}, "axis": null}, "y2": {"datum": 9.117}}}
]}
],
"resolve": {"scale": {"y": "independent"}}
}
